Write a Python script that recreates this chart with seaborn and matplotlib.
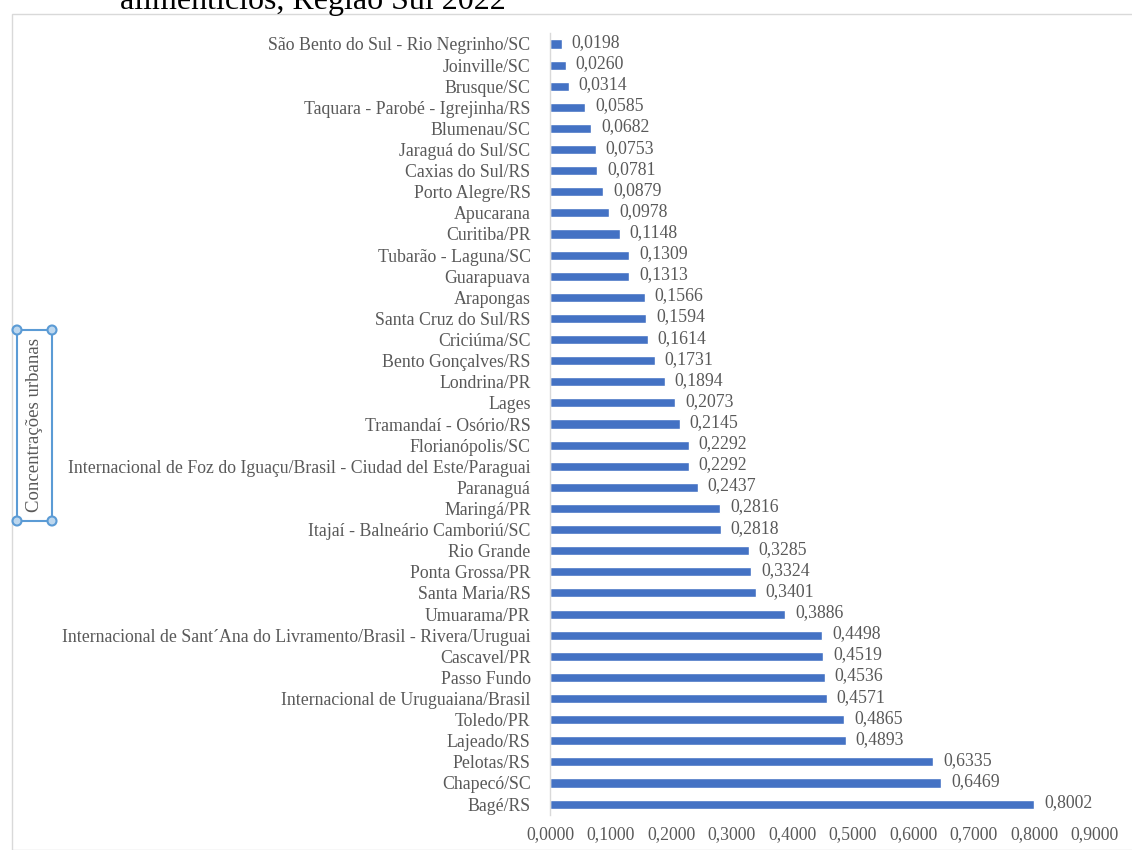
import matplotlib
matplotlib.use("Agg")
import matplotlib.pyplot as plt
import seaborn as sns
import pandas as pd
from matplotlib.patches import Rectangle, Circle

cities = [
    "São Bento do Sul - Rio Negrinho/SC", "Joinville/SC", "Brusque/SC",
    "Taquara - Parobé - Igrejinha/RS", "Blumenau/SC", "Jaraguá do Sul/SC",
    "Caxias do Sul/RS", "Porto Alegre/RS", "Apucarana", "Curitiba/PR",
    "Tubarão - Laguna/SC", "Guarapuava", "Arapongas", "Santa Cruz do Sul/RS",
    "Criciúma/SC", "Bento Gonçalves/RS", "Londrina/PR", "Lages",
    "Tramandaí - Osório/RS", "Florianópolis/SC",
    "Internacional de Foz do Iguaçu/Brasil - Ciudad del Este/Paraguai",
    "Paranaguá", "Maringá/PR", "Itajaí - Balneário Camboriú/SC", "Rio Grande",
    "Ponta Grossa/PR", "Santa Maria/RS", "Umuarama/PR",
    "Internacional de Sant´Ana do Livramento/Brasil - Rivera/Uruguai",
    "Cascavel/PR", "Passo Fundo", "Internacional de Uruguaiana/Brasil",
    "Toledo/PR", "Lajeado/RS", "Pelotas/RS", "Chapecó/SC", "Bagé/RS",
]
values = [
    0.0198, 0.0260, 0.0314, 0.0585, 0.0682, 0.0753, 0.0781, 0.0879, 0.0978,
    0.1148, 0.1309, 0.1313, 0.1566, 0.1594, 0.1614, 0.1731, 0.1894, 0.2073,
    0.2145, 0.2292, 0.2292, 0.2437, 0.2816, 0.2818, 0.3285, 0.3324, 0.3401,
    0.3886, 0.4498, 0.4519, 0.4536, 0.4571, 0.4865, 0.4893, 0.6335, 0.6469,
    0.8002,
]
x_ticks = [0.0, 0.1, 0.2, 0.3, 0.4, 0.5, 0.6, 0.7, 0.8, 0.9]
title_text = "alimentícios, Região Sul 2022"
ylabel_text = "Concentrações urbanas"

sns.set_theme(style="white")
plt.rcParams["font.family"] = ["Liberation Serif", "DejaVu Serif"]

df = pd.DataFrame({"city": cities, "value": values})

fig = plt.figure(figsize=(11.32, 8.5), dpi=100)
ax = fig.add_axes([0.4859, 0.0416, 0.967 - 0.4859, 0.9607 - 0.0416])

sns.barplot(data=df, y="city", x="value", orient="h", color="#4472C4",
            width=0.43, saturation=1, ax=ax, order=cities)

gray = "#595959"
fs = 12.8
ax.set_xlim(0, 0.9)
ax.set_ylim(len(cities) - 0.5, -0.5)
ax.set_xticks(x_ticks)
ax.set_xticklabels([f"{t:.4f}".replace(".", ",") for t in x_ticks],
                   color=gray, fontsize=fs)
ax.tick_params(axis="y", labelsize=fs, labelcolor=gray, length=0, pad=14)
ax.tick_params(axis="x", length=0, pad=8)
ax.set_xlabel("")
ax.set_ylabel("")
for s in ["top", "right", "bottom"]:
    ax.spines[s].set_visible(False)
ax.spines["left"].set_color("#D9D9D9")
ax.spines["left"].set_linewidth(1)

for i, v in enumerate(values):
    ax.annotate(f"{v:.4f}".replace(".", ","), xy=(v, i), xytext=(7, 1),
                textcoords="offset points", va="center", ha="left",
                fontsize=fs, color=gray)

# outer chart border
W, H = 1132, 850
fig.patches.append(Rectangle((12 / W, 0), 1.2, 1 - 14 / H, transform=fig.transFigure,
                             fill=False, edgecolor="#D9D9D9", linewidth=1))

# partially visible title
fig.text(120 / W, 1 - 9 / H, title_text, fontsize=23, color="black",
         ha="left", va="baseline")

# y label in selection box
x0, x1, y0, y1 = 17 / W, 52 / W, 1 - 521 / H, 1 - 330 / H
fig.patches.append(Rectangle((x0, y0), x1 - x0, y1 - y0, transform=fig.transFigure,
                             fill=False, edgecolor="#5B9BD5", linewidth=1.5))
for cx, cy in [(x0, y0), (x0, y1), (x1, y0), (x1, y1)]:
    fig.patches.append(Circle((cx * W, cy * H), 4.5, transform=None,
                              facecolor="#BDD7EE", edgecolor="#5B9BD5", linewidth=1.5))
fig.text((x0 + x1) / 2, (y0 + y1) / 2, ylabel_text, rotation=90, fontsize=13.5,
         color=gray, ha="center", va="center")

fig.savefig("out.png", dpi=100)
